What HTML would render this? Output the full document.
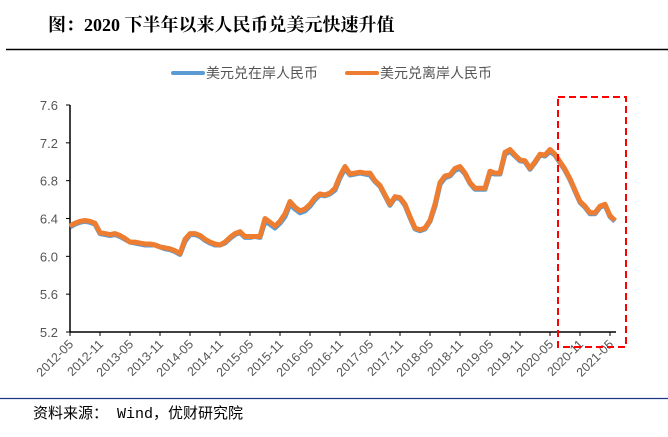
<!DOCTYPE html>
<html><head><meta charset="utf-8"><style>
body{margin:0;background:#fff;width:668px;height:432px;overflow:hidden;font-family:"Liberation Sans","Noto Sans CJK SC",sans-serif}
</style></head><body>
<svg width="668" height="432" xmlns="http://www.w3.org/2000/svg">
<text x="48" y="31" font-size="18" font-weight="bold" font-family="Liberation Serif, Noto Serif CJK SC, serif" fill="#000">图：2020 下半年以来人民币兑美元快速升值</text>
<line x1="6" y1="49.5" x2="668" y2="49.5" stroke="#000" stroke-width="1.5"/>
<g>
<g><line x1="173" y1="73" x2="203" y2="73" stroke="#5b9bd5" stroke-width="4" stroke-linecap="round"/><text x="206" y="78" font-size="14" fill="#555">美元兑在岸人民币</text></g>
<g><line x1="347" y1="73" x2="377" y2="73" stroke="#ed7d31" stroke-width="4" stroke-linecap="round"/><text x="380" y="78" font-size="14" fill="#555">美元兑离岸人民币</text></g>
</g>
<g id="axes"></g>
<g id="series"></g>
<rect x="558" y="97" width="68" height="250" fill="none" stroke="#f00" stroke-width="2" stroke-dasharray="7,4"/>
<line x1="0" y1="398.5" x2="668" y2="398.5" stroke="#1f3a8a" stroke-width="1.2"/>
<text x="33" y="418" font-size="15" fill="#000" font-family="Liberation Mono, Noto Sans CJK SC, monospace">资料来源： Wind，优财研究院</text>
</svg>
<script>
const yTicks=[5.2,5.6,6.0,6.4,6.8,7.2,7.6];
const yTickLabels=["5.2","5.6","6.0","6.4","6.8","7.2","7.6"];
const xTickLabels=["2012-05","2012-11","2013-05","2013-11","2014-05","2014-11","2015-05","2015-11","2016-05","2016-11","2017-05","2017-11","2018-05","2018-11","2019-05","2019-11","2020-05","2020-11","2021-05"];
const offshore=[6.32,6.35,6.37,6.38,6.37,6.35,6.25,6.24,6.23,6.24,6.22,6.19,6.15,6.15,6.14,6.13,6.13,6.12,6.10,6.09,6.08,6.06,6.03,6.18,6.24,6.24,6.22,6.18,6.15,6.13,6.12,6.15,6.20,6.24,6.26,6.21,6.21,6.21,6.21,6.40,6.36,6.32,6.37,6.45,6.58,6.52,6.48,6.50,6.55,6.62,6.66,6.65,6.67,6.72,6.85,6.95,6.87,6.88,6.89,6.88,6.88,6.80,6.75,6.65,6.55,6.63,6.62,6.55,6.42,6.30,6.28,6.30,6.38,6.55,6.78,6.85,6.86,6.93,6.95,6.88,6.78,6.72,6.72,6.72,6.90,6.88,6.88,7.10,7.13,7.07,7.02,7.01,6.93,7.00,7.08,7.07,7.13,7.08,7.00,6.92,6.82,6.70,6.58,6.53,6.46,6.46,6.53,6.55,6.43,6.38];
const onshore=[6.31,6.34,6.36,6.37,6.36,6.34,6.24,6.23,6.22,6.23,6.21,6.18,6.15,6.14,6.13,6.12,6.12,6.12,6.10,6.08,6.07,6.05,6.02,6.16,6.23,6.23,6.21,6.17,6.14,6.12,6.12,6.14,6.19,6.23,6.25,6.20,6.20,6.21,6.20,6.37,6.34,6.30,6.35,6.42,6.55,6.50,6.46,6.48,6.53,6.60,6.65,6.64,6.66,6.70,6.83,6.93,6.86,6.87,6.88,6.87,6.86,6.79,6.74,6.64,6.54,6.62,6.61,6.54,6.41,6.29,6.27,6.29,6.37,6.53,6.76,6.83,6.85,6.91,6.93,6.87,6.77,6.71,6.71,6.71,6.88,6.87,6.87,7.08,7.11,7.06,7.01,7.00,6.92,6.99,7.07,7.06,7.11,7.07,6.99,6.91,6.81,6.69,6.57,6.52,6.45,6.45,6.52,6.54,6.42,6.37];
const NS="http://www.w3.org/2000/svg";
const x0=70,monthW=5,yTop=105,yBot=332,vMin=5.2,vMax=7.6;
function xs(i){return x0+i*monthW;}
function ys(v){return yBot-(v-vMin)/(vMax-vMin)*(yBot-yTop);}
const ax=document.getElementById('axes');
function mk(tag,attrs,parent){const e=document.createElementNS(NS,tag);for(const k in attrs)e.setAttribute(k,attrs[k]);parent.appendChild(e);return e;}
const ya=mk('line',{x1:x0,y1:yTop,x2:x0,y2:yBot,stroke:'#000','stroke-width':1.5},ax);


const xEnd=xs(offshore.length-1)+1;
const xa=mk('line',{x1:x0,y1:yBot,x2:xEnd,y2:yBot,stroke:'#000','stroke-width':1.5},ax);


yTicks.forEach((v,i)=>{
 const y=ys(v);
 mk('line',{x1:x0-4,y1:y,x2:x0,y2:y,stroke:'#000'},ax);
 const t=mk('text',{x:x0-12,y:y+5,'text-anchor':'end','font-size':13,fill:'#555'},ax);
 t.textContent=yTickLabels[i];
 
 
});
xTickLabels.forEach((lab,i)=>{
 const x=xs(i*6);
 mk('line',{x1:x,y1:yBot,x2:x,y2:yBot+4,stroke:'#000'},ax);
 const t=mk('text',{x:x+4,y:yBot+13,'text-anchor':'end','font-size':12.5,fill:'#555',transform:`rotate(-45 ${x+4} ${yBot+13})`},ax);
 t.textContent=lab;
 
 
});
const sg=document.getElementById('series');
function line(data,color,name){
 const d=data.map((v,i)=>(i?'L':'M')+xs(i).toFixed(1)+','+ys(v).toFixed(1)).join('');
 const p=mk('path',{d:d,fill:'none',stroke:color,'stroke-width':5,'stroke-linejoin':'round'},sg);
 
 
}
line(onshore,'#5b9bd5','onshore-line');
line(offshore,'#ed7d31','offshore-line');
</script>
</body></html>
